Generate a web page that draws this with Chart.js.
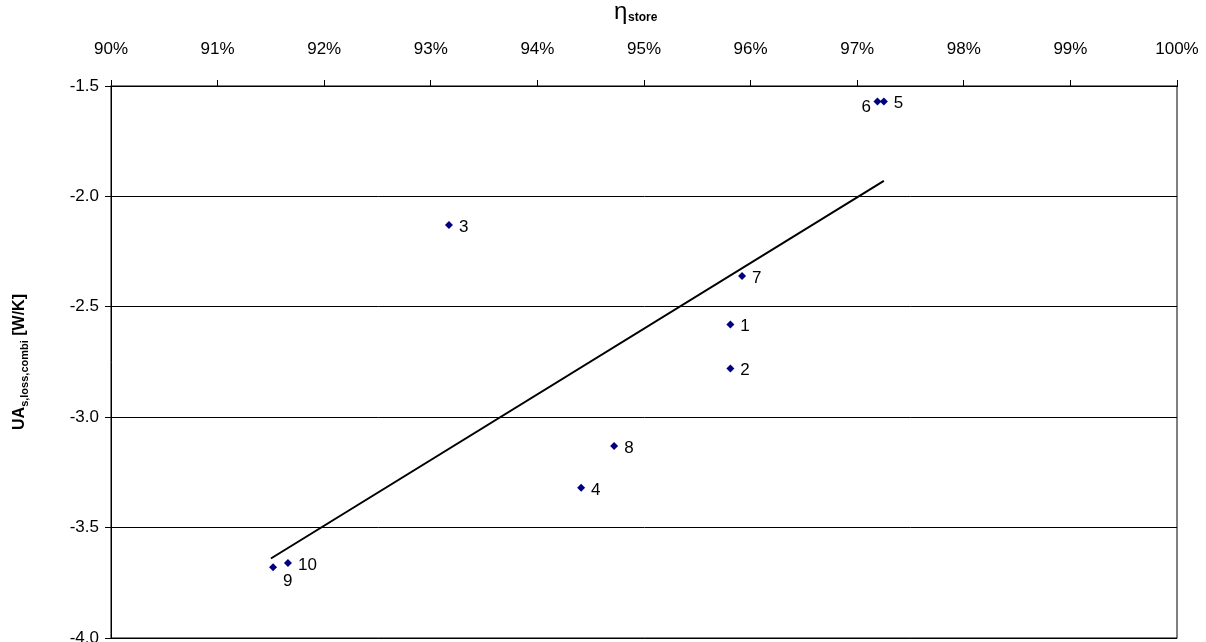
<!DOCTYPE html>
<html><head><meta charset="utf-8">
<script src="https://cdn.jsdelivr.net/npm/chart.js@4"></script>
<style>body{margin:0;background:#fff}#wrap{width:1206px;height:642px}</style>
</head><body><div id="wrap"><canvas id="c"></canvas></div>
<script>
// ---------------- Dados ----------------
const pointLabels=["1","2","3","4","5","6","7","8","9","10"];
const etaStore=[95.81,95.81,93.17,94.41,97.25,97.19,95.92,94.72,91.52,91.66];
const uaLoss=[-2.58,-2.78,-2.13,-3.32,-1.57,-1.57,-2.36,-3.13,-3.68,-3.66];
const trendX=[91.5,97.25];
const trendY=[-3.64,-1.93];
const xTicks=[90,91,92,93,94,95,96,97,98,99,100];
const yTicks=[-1.5,-2.0,-2.5,-3.0,-3.5,-4.0];

const labelOffsets={"6":[-16,6],"9":[10,14]};
const FONT="'Liberation Sans', Arial, sans-serif";

const textPlugin={
  id:"texts",
  afterDraw(chart){
    const ctx=chart.ctx, a=chart.chartArea;
    const meta=chart.getDatasetMeta(0);
    ctx.save();
    ctx.fillStyle="#000";
    ctx.font="17px "+FONT;
    ctx.textBaseline="middle";
    meta.data.forEach((p,i)=>{
      const off=labelOffsets[pointLabels[i]]||[10,2];
      ctx.textAlign="left";
      ctx.fillText(pointLabels[i],p.x+off[0],p.y+off[1]);
    });
    // título x
    ctx.textAlign="left";
    ctx.font="24px "+FONT;
    const cx=(a.left+a.right)/2;
    ctx.fillText("η",cx-30,12);
    ctx.font="bold 12px "+FONT;
    ctx.fillText("store",cx-16,18);
    // título y
    ctx.translate(20,(a.top+a.bottom)/2);
    ctx.rotate(-Math.PI/2);
    const p1="UA", p2="s,loss,combi", p3=" [W/K]";
    ctx.font="bold 16px "+FONT; const w1=ctx.measureText(p1).width, w3=ctx.measureText(p3).width;
    ctx.font="bold 11px "+FONT; const w2=ctx.measureText(p2).width;
    let x0=-(w1+w2+w3)/2;
    ctx.font="bold 16px "+FONT; ctx.fillText(p1,x0,0);
    ctx.font="bold 11px "+FONT; ctx.fillText(p2,x0+w1,5);
    ctx.font="bold 16px "+FONT; ctx.fillText(p3,x0+w1+w2,0);
    ctx.restore();
  }
};

new Chart(document.getElementById("c"),{
  type:"scatter",
  data:{datasets:[
    {data:etaStore.map((x,i)=>({x,y:uaLoss[i]})),pointStyle:"rectRot",pointRadius:4,pointHoverRadius:4,
     backgroundColor:"#000080",borderColor:"#000080",borderWidth:0},
    {type:"line",data:trendX.map((x,i)=>({x,y:trendY[i]})),borderColor:"#000",borderWidth:2,pointRadius:0,fill:false}
  ]},
  options:{
    responsive:true,maintainAspectRatio:false,animation:false,
    layout:{padding:{right:29,bottom:2,top:0,left:0}},
    plugins:{legend:{display:false},tooltip:{enabled:false}},
    scales:{
      x:{type:"linear",position:"top",min:90,max:100,
        afterFit:s=>{s.height=86;s.paddingLeft=0;s.paddingRight=0;},
        afterBuildTicks:s=>{s.ticks=xTicks.map(v=>({value:v}));},
        ticks:{callback:v=>v+"%",color:"#000",font:{size:17,family:FONT},maxRotation:0,padding:20},
        grid:{drawOnChartArea:false,color:"#000",tickLength:6},
        border:{color:"#000",width:1}},
      y:{min:-4,max:-1.5,
        afterFit:s=>{s.width=111;s.paddingTop=0;s.paddingBottom=0;},
        afterBuildTicks:s=>{s.ticks=yTicks.map(v=>({value:v}));},
        ticks:{callback:v=>v.toFixed(1),color:"#000",font:{size:17,family:FONT},padding:6},
        grid:{color:"#000",tickLength:6},
        border:{color:"#000",width:1}}
    }
  },
  plugins:[textPlugin,{id:"box",afterDraw(c){const a=c.chartArea,x=c.ctx;x.save();x.strokeStyle="#000";x.lineWidth=1;x.strokeRect(a.left,a.top,a.right-a.left,a.bottom-a.top);x.restore();}}]
});
</script></body></html>
